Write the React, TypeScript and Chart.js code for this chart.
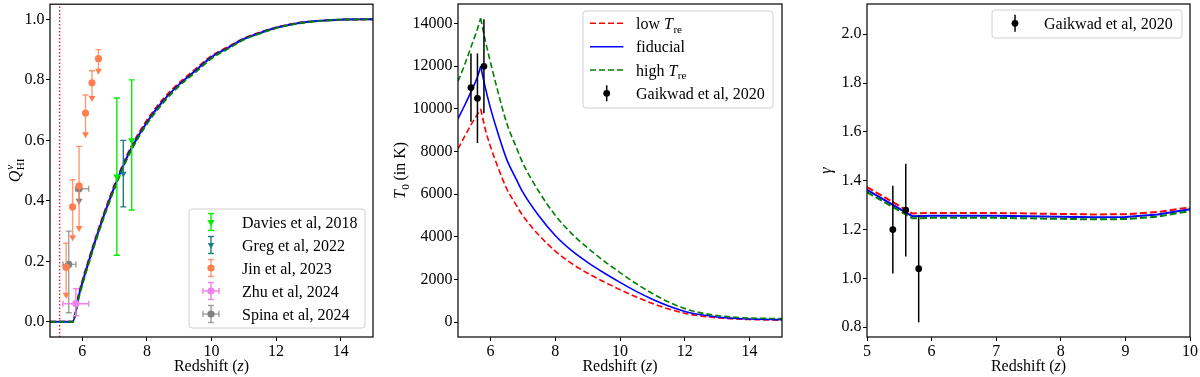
import React, { useEffect, useRef } from "react";
import { Chart, registerables } from "chart.js";

Chart.register(...registerables);

const SERIF = '"Liberation Serif", "Times New Roman", "DejaVu Serif", serif';
const FS = 16;

const RED = "#ff0000";
const BLUE = "#0000ff";
const DGREEN = "#008000";
const LIME = "#00ee00";
const TEAL = "#1b7f7f";
const CORAL = "#ff7f50";
const CORAL_BAR = "rgba(255,127,80,0.8)";
const VIOLET = "#ee82ee";
const GRAY = "#808080";
const GRAY_BAR = "rgba(128,128,128,0.75)";

// ---------------- Panel 1: Q_HI ----------------
const zQ = [5.0, 5.7, 5.9, 6.2, 6.5, 6.9, 7.2, 7.5, 8.0, 8.5, 9.0, 9.5, 10.0, 10.5, 11.0, 11.5, 12.0, 12.5, 13.0, 13.5, 14.0, 15.0];
const qLow = [0, 0, 0.096, 0.206, 0.306, 0.426, 0.506, 0.576, 0.666, 0.736, 0.79, 0.835, 0.879, 0.908, 0.937, 0.957, 0.973, 0.985, 0.992, 0.996, 0.999, 1.0];
const qFid = [0, 0, 0.09, 0.2, 0.3, 0.42, 0.5, 0.57, 0.66, 0.73, 0.785, 0.83, 0.875, 0.905, 0.935, 0.955, 0.972, 0.984, 0.992, 0.996, 0.999, 1.0];
const qHigh = [0, 0, 0.084, 0.194, 0.294, 0.414, 0.494, 0.564, 0.654, 0.724, 0.78, 0.825, 0.871, 0.902, 0.933, 0.953, 0.971, 0.983, 0.991, 0.996, 0.999, 1.0];
const zReion = 5.3;
const qMin = -0.05;
const qMax = 1.05;
const qTicksX = [6, 8, 10, 12, 14];
const qTicksY = [0, 0.2, 0.4, 0.6, 0.8, 1.0];

const daviesZ = [7.07, 7.53];
const daviesQ = [0.48, 0.6];
const daviesLo = [0.22, 0.37];
const daviesHi = [0.74, 0.8];

const gregZ = [7.27];
const gregQ = [0.49];
const gregLo = [0.38];
const gregHi = [0.6];

const jinZ = [5.5, 5.7, 5.9, 6.1, 6.3, 6.5];
const jinQ = [0.18, 0.38, 0.45, 0.69, 0.79, 0.87];
const jinHi = [0.26, 0.47, 0.58, 0.75, 0.83, 0.9];
const jinLim = [0.09, 0.28, 0.31, 0.62, 0.74, 0.83];

const zhuZ = [5.8];
const zhuQ = [0.06];
const zhuZLo = [5.4];
const zhuZHi = [6.2];
const zhuLo = [0.02];
const zhuHi = [0.11];

const spinaZ = [5.58, 5.9];
const spinaQ = [0.19, 0.44];
const spinaZLo = [5.4, 5.79];
const spinaZHi = [5.8, 6.2];
const spinaLo = [0.03, 0.4];
const spinaHi = [0.3, 0.44];
const spinaCap = [true, false];
const spinaLimZ = [5.9];
const spinaLimQ = [0.4];

// ---------------- Panel 2: T0 ----------------
const zT = [5.0, 5.2, 5.4, 5.6, 5.7, 5.85, 6.0, 6.2, 6.5, 6.8, 7.0, 7.5, 8.0, 8.5, 9.0, 9.5, 10.0, 10.5, 11.0, 11.5, 12.0, 12.5, 13.0, 13.5, 14.0, 15.0];
const tPeakIndex = 4; // z = 5.7, where all three curves peak
const tLow = [8130, 8700, 9250, 9750, 10000, 9000, 8250, 7400, 6270, 5490, 5000, 4080, 3340, 2760, 2300, 1900, 1530, 1190, 880, 620, 420, 290, 210, 160, 128, 100];
const tFid = [9540, 10150, 10800, 11500, 12000, 10950, 10050, 9020, 7650, 6700, 6100, 4980, 4070, 3370, 2810, 2320, 1870, 1450, 1080, 760, 510, 350, 250, 190, 155, 125];
const tHigh = [11300, 12050, 12900, 13750, 14250, 13150, 12200, 11000, 9350, 8200, 7470, 6120, 5020, 4170, 3490, 2880, 2330, 1810, 1350, 950, 640, 440, 320, 240, 200, 170];
const tTicksX = [6, 8, 10, 12, 14];
const tTicksY = [0, 2000, 4000, 6000, 8000, 10000, 12000, 14000];

// ---------------- Panel 3: gamma ----------------
const zG = [5.0, 5.7, 6.0, 7.0, 8.0, 8.5, 9.0, 9.5, 10.0];
const gLow = [1.374, 1.266, 1.268, 1.268, 1.264, 1.262, 1.263, 1.272, 1.291];
const gFid = [1.363, 1.255, 1.257, 1.257, 1.253, 1.251, 1.252, 1.262, 1.283];
const gHigh = [1.353, 1.246, 1.248, 1.248, 1.244, 1.242, 1.243, 1.253, 1.276];
const gTicksX = [5, 6, 7, 8, 9, 10];
const gTicksY = [0.8, 1.0, 1.2, 1.4, 1.6, 1.8, 2.0];

// Gaikwad et al 2020
const gkZ = [5.4, 5.6, 5.8];
const gkT = [11000, 10500, 12000];
const gkTErr = [1600, 2100, 2200];
const gkG = [1.2, 1.28, 1.04];
const gkGErr = [0.18, 0.19, 0.22];

// ---------------- helpers ----------------
type Seg = { t?: string; it?: boolean; sub?: string; subIt?: boolean; sup?: string; supIt?: boolean };

function fnt(it: any, size: number) {
  return `${it ? "italic " : ""}${size}px ${SERIF}`;
}

function richWidth(ctx: any, segs: Seg[], size: number) {
  let w = 0;
  for (const s of segs) {
    if (s.t) {
      ctx.font = fnt(s.it, size);
      w += ctx.measureText(s.t).width;
    }
    let sw = 0;
    if (s.sub) {
      ctx.font = fnt(s.subIt, size * 0.7);
      sw = Math.max(sw, ctx.measureText(s.sub).width);
    }
    if (s.sup) {
      ctx.font = fnt(s.supIt, size * 0.7);
      sw = Math.max(sw, ctx.measureText(s.sup).width);
    }
    w += sw;
  }
  return w;
}

function drawRich(ctx: any, segs: Seg[], x: number, y: number, size: number, align: string) {
  ctx.textBaseline = "alphabetic";
  ctx.textAlign = "left";
  ctx.fillStyle = "#000";
  let cx = align === "center" ? x - richWidth(ctx, segs, size) / 2 : x;
  for (const s of segs) {
    if (s.t) {
      ctx.font = fnt(s.it, size);
      ctx.fillText(s.t, cx, y);
      cx += ctx.measureText(s.t).width;
    }
    let sw = 0;
    if (s.sub) {
      ctx.font = fnt(s.subIt, size * 0.7);
      ctx.fillText(s.sub, cx + 0.5, y + size * 0.24);
      sw = Math.max(sw, ctx.measureText(s.sub).width);
    }
    if (s.sup) {
      ctx.font = fnt(s.supIt, size * 0.7);
      ctx.fillText(s.sup, cx + 1, y - size * 0.42);
      sw = Math.max(sw, ctx.measureText(s.sup).width);
    }
    cx += sw;
  }
}

function seg(ctx: any, x1: number, y1: number, x2: number, y2: number) {
  ctx.beginPath();
  ctx.moveTo(x1, y1);
  ctx.lineTo(x2, y2);
  ctx.stroke();
}

function drawMarker(ctx: any, kind: string, x: number, y: number, r: number, color: string) {
  ctx.fillStyle = color;
  ctx.beginPath();
  if (kind === "triDown") {
    ctx.moveTo(x, y + r);
    ctx.lineTo(x - r * 0.866, y - r / 2);
    ctx.lineTo(x + r * 0.866, y - r / 2);
    ctx.closePath();
  } else {
    ctx.arc(x, y, r, 0, Math.PI * 2);
  }
  ctx.fill();
}

function drawHandle(ctx: any, it: any, cx: number, cy: number) {
  ctx.save();
  if (it.kind === "line") {
    ctx.strokeStyle = it.color;
    ctx.lineWidth = it.lw;
    ctx.setLineDash(it.dash || []);
    seg(ctx, cx - 16.7, cy, cx + 16.7, cy);
    ctx.setLineDash([]);
  } else {
    ctx.strokeStyle = it.errColor;
    ctx.lineWidth = it.lw;
    const vh = it.vh;
    seg(ctx, cx, cy - vh, cx, cy + vh);
    if (it.cap) {
      seg(ctx, cx - it.cap, cy - vh, cx + it.cap, cy - vh);
      seg(ctx, cx - it.cap, cy + vh, cx + it.cap, cy + vh);
    }
    if (it.xh) {
      seg(ctx, cx - it.xh, cy, cx + it.xh, cy);
      if (it.cap) {
        seg(ctx, cx - it.xh, cy - it.cap, cx - it.xh, cy + it.cap);
        seg(ctx, cx + it.xh, cy - it.cap, cx + it.xh, cy + it.cap);
      }
    }
    drawMarker(ctx, it.marker, cx, cy, it.r, it.color);
  }
  ctx.restore();
}

function drawLegend(ctx: any, L: any) {
  ctx.save();
  const r = 3;
  const x = L.x0, y = L.y0, w = L.x1 - L.x0, h = L.y1 - L.y0;
  ctx.beginPath();
  ctx.moveTo(x + r, y);
  ctx.lineTo(x + w - r, y);
  ctx.arcTo(x + w, y, x + w, y + r, r);
  ctx.lineTo(x + w, y + h - r);
  ctx.arcTo(x + w, y + h, x + w - r, y + h, r);
  ctx.lineTo(x + r, y + h);
  ctx.arcTo(x, y + h, x, y + h - r, r);
  ctx.lineTo(x, y + r);
  ctx.arcTo(x, y, x + r, y, r);
  ctx.closePath();
  ctx.fillStyle = "rgba(255,255,255,0.8)";
  ctx.fill();
  ctx.strokeStyle = "#d0d0d0";
  ctx.lineWidth = 1;
  ctx.stroke();
  L.items.forEach((it: any, i: number) => {
    const cy = L.rows[i];
    drawHandle(ctx, it, L.hx, cy);
    drawRich(ctx, it.label, L.tx, cy + 5.5, FS, "left");
  });
  ctx.restore();
}

const errPlugin = {
  id: "errbars",
  beforeDatasetDraw(chart: any, args: any) {
    const ds = chart.data.datasets[args.index];
    if (!ds.errs) return;
    const ctx = chart.ctx;
    const xs = chart.scales.x;
    const ys = chart.scales.y;
    const ca = chart.chartArea;
    ctx.save();
    ctx.beginPath();
    ctx.rect(ca.left, ca.top, ca.right - ca.left, ca.bottom - ca.top);
    ctx.clip();
    ctx.strokeStyle = ds.errColor;
    ctx.lineWidth = ds.errWidth;
    const c = ds.capSize || 0;
    for (const e of ds.errs) {
      const px = xs.getPixelForValue(e.x);
      const py = ys.getPixelForValue(e.y);
      if (e.yLo !== undefined) {
        const a = ys.getPixelForValue(e.yLo);
        const b = ys.getPixelForValue(e.yHi);
        seg(ctx, px, a, px, b);
        if (c && e.capLo !== false) seg(ctx, px - c, a, px + c, a);
        if (c && e.capHi !== false) seg(ctx, px - c, b, px + c, b);
      }
      if (e.xLo !== undefined) {
        const a = xs.getPixelForValue(e.xLo);
        const b = xs.getPixelForValue(e.xHi);
        seg(ctx, a, py, b, py);
        if (c) {
          seg(ctx, a, py - c, a, py + c);
          seg(ctx, b, py - c, b, py + c);
        }
      }
    }
    ctx.restore();
  },
};

function decor(spec: any) {
  return {
    id: "decor",
    afterDraw(chart: any) {
      const ctx = chart.ctx;
      const ca = chart.chartArea;
      ctx.save();
      ctx.strokeStyle = "#000";
      ctx.lineWidth = 1.2;
      ctx.strokeRect(ca.left, ca.top, ca.right - ca.left, ca.bottom - ca.top);
      ctx.restore();
      ctx.save();
      drawRich(ctx, spec.xTitle, (ca.left + ca.right) / 2, 371, FS, "center");
      ctx.restore();
      ctx.save();
      ctx.translate(spec.yTitleX, (ca.top + ca.bottom) / 2);
      ctx.rotate(-Math.PI / 2);
      drawRich(ctx, spec.yTitle, 0, 0, FS, "center");
      ctx.restore();
      drawLegend(ctx, spec.legend);
    },
  };
}

function scalesFor(p: any) {
  const tickFont = { family: SERIF, size: FS };
  const grid = { display: true, drawOnChartArea: false, drawTicks: true, tickLength: 4, color: "#000", lineWidth: 1 };
  return {
    x: {
      type: "linear",
      min: p.xMin,
      max: p.xMax,
      afterBuildTicks: (s: any) => {
        s.ticks = p.xTicks.map((v: number) => ({ value: v }));
      },
      afterFit: (s: any) => {
        s.height = 40;
        s.paddingLeft = 0;
        s.paddingRight = 0;
      },
      ticks: { color: "#000", font: tickFont, padding: 1, maxRotation: 0, autoSkip: false, callback: (v: any) => p.xFmt(v) },
      grid,
      border: { display: false },
    },
    y: {
      type: "linear",
      min: p.yMin,
      max: p.yMax,
      afterBuildTicks: (s: any) => {
        s.ticks = p.yTicks.map((v: number) => ({ value: v }));
      },
      afterFit: (s: any) => {
        s.width = p.yW;
        s.paddingTop = 0;
        s.paddingBottom = 0;
      },
      ticks: { color: "#000", font: tickFont, padding: 1.5, autoSkip: false, callback: (v: any) => p.yFmt(v) },
      grid,
      border: { display: false },
    },
  };
}

function baseOptions(p: any) {
  return {
    responsive: false,
    maintainAspectRatio: false,
    animation: false,
    events: [],
    layout: { padding: { left: 0, right: p.padR, top: 3, bottom: 0 } },
    plugins: { legend: { display: false }, tooltip: { enabled: false } },
    scales: scalesFor(p),
  };
}

const pts = (xs: number[], ys: number[]) => xs.map((x, i) => ({ x, y: ys[i] }));

function curve(data: any, color: string, lw: number, dash: number[], order: number, mono: boolean) {
  return {
    data,
    showLine: true,
    borderColor: color,
    borderWidth: lw,
    borderDash: dash,
    pointRadius: 0,
    fill: false,
    tension: 0,
    cubicInterpolationMode: mono ? "monotone" : "default",
    order,
  };
}

// a peaked curve: rising and decaying branches share the peak point, each smoothed separately
function peakedCurve(xs: number[], ys: number[], k: number, color: string, lw: number, dash: number[], order: number) {
  return [
    curve(pts(xs.slice(0, k + 1), ys.slice(0, k + 1)), color, lw, dash, order, true),
    curve(pts(xs.slice(k), ys.slice(k)), color, lw, dash, order, true),
  ];
}

function markers(data: any, style: string, r: number, color: string, extra: any) {
  return {
    data,
    showLine: false,
    pointStyle: style === "triDown" ? "triangle" : "circle",
    pointRotation: style === "triDown" ? 180 : 0,
    pointRadius: r,
    pointBackgroundColor: color,
    pointBorderWidth: 0,
    pointBorderColor: color,
    order: 1,
    ...extra,
  };
}

const xTitle: Seg[] = [{ t: "Redshift (" }, { t: "z", it: true }, { t: ")" }];

function makeP1() {
  const datasets = [
    markers(pts(daviesZ, daviesQ), "triDown", 4.2, LIME, {
      errs: daviesZ.map((z, i) => ({ x: z, y: daviesQ[i], yLo: daviesLo[i], yHi: daviesHi[i] })),
      errColor: LIME, errWidth: 1.4, capSize: 3,
    }),
    markers(pts(gregZ, gregQ), "triDown", 3.8, TEAL, {
      errs: gregZ.map((z, i) => ({ x: z, y: gregQ[i], yLo: gregLo[i], yHi: gregHi[i] })),
      errColor: TEAL, errWidth: 1.4, capSize: 3,
    }),
    markers(pts(jinZ, jinQ), "circle", 3.6, CORAL, {
      errs: jinZ.map((z, i) => ({ x: z, y: jinQ[i], yLo: jinLim[i], yHi: jinHi[i], capLo: false })),
      errColor: CORAL_BAR, errWidth: 1.4, capSize: 3,
    }),
    markers(pts(jinZ, jinLim), "triDown", 4, CORAL, {}),
    markers(pts(zhuZ, zhuQ), "circle", 3.6, VIOLET, {
      errs: zhuZ.map((z, i) => ({ x: z, y: zhuQ[i], yLo: zhuLo[i], yHi: zhuHi[i], xLo: zhuZLo[i], xHi: zhuZHi[i] })),
      errColor: VIOLET, errWidth: 1.4, capSize: 3,
    }),
    markers(pts(spinaZ, spinaQ), "circle", 3.6, GRAY, {
      errs: spinaZ.map((z, i) => ({ x: z, y: spinaQ[i], yLo: spinaLo[i], yHi: spinaHi[i], xLo: spinaZLo[i], xHi: spinaZHi[i], capLo: spinaCap[i], capHi: spinaCap[i] })),
      errColor: GRAY_BAR, errWidth: 1.4, capSize: 3,
    }),
    markers(pts(spinaLimZ, spinaLimQ), "triDown", 4, GRAY, {}),
    curve(pts(zQ, qLow), RED, 2, [6, 3], 10, true),
    curve(pts(zQ, qFid), BLUE, 2, [], 9, true),
    curve(pts(zQ, qHigh), DGREEN, 2, [6, 3], 8, true),
    curve(pts([zReion, zReion], [qMin, qMax]), RED, 1.2, [1.5, 2], 11, false),
  ];
  const spec = {
    xTitle,
    yTitle: [{ t: "Q", it: true, sub: "HI", sup: "v", supIt: true }],
    yTitleX: 20,
    legend: {
      x0: 189, y0: 209, x1: 365, y1: 328, hx: 211, tx: 242,
      rows: [222, 245, 268, 291, 314],
      items: [
        { kind: "err", label: [{ t: "Davies et al, 2018" }], color: LIME, errColor: LIME, lw: 1.4, vh: 8.5, cap: 3, marker: "triDown", r: 4.2 },
        { kind: "err", label: [{ t: "Greg et al, 2022" }], color: TEAL, errColor: TEAL, lw: 1.4, vh: 8.5, cap: 3, marker: "triDown", r: 3.8 },
        { kind: "err", label: [{ t: "Jin et al, 2023" }], color: CORAL, errColor: CORAL_BAR, lw: 1.4, vh: 8.5, cap: 3, marker: "circle", r: 3.6 },
        { kind: "err", label: [{ t: "Zhu et al, 2024" }], color: VIOLET, errColor: VIOLET, lw: 1.4, vh: 8.5, cap: 3, xh: 8, marker: "circle", r: 3.6 },
        { kind: "err", label: [{ t: "Spina et al, 2024" }], color: GRAY, errColor: GRAY_BAR, lw: 1.4, vh: 8.5, cap: 3, xh: 8, marker: "circle", r: 3.6 },
      ],
    },
  };
  return {
    type: "scatter",
    data: { datasets },
    options: baseOptions({
      xMin: 5, xMax: 15, xTicks: qTicksX, xFmt: (v: number) => String(v),
      yMin: qMin, yMax: qMax, yTicks: qTicksY, yFmt: (v: number) => v.toFixed(1),
      yW: 50, padR: 17,
    }),
    plugins: [errPlugin, decor(spec)],
  };
}

function makeP2() {
  const datasets = [
    markers(pts(gkZ, gkT), "circle", 3.4, "#000", {
      errs: gkZ.map((z, i) => ({ x: z, y: gkT[i], yLo: gkT[i] - gkTErr[i], yHi: gkT[i] + gkTErr[i] })),
      errColor: "#000", errWidth: 1.5, capSize: 0,
    }),
    ...peakedCurve(zT, tLow, tPeakIndex, RED, 1.6, [6, 3], 10),
    ...peakedCurve(zT, tFid, tPeakIndex, BLUE, 1.6, [], 9),
    ...peakedCurve(zT, tHigh, tPeakIndex, DGREEN, 1.6, [6, 3], 8),
  ];
  const spec = {
    xTitle,
    yTitle: [{ t: "T", it: true, sub: "0" }, { t: " (in K)" }],
    yTitleX: 15,
    legend: {
      x0: 193, y0: 11, x1: 383, y1: 108, hx: 216.7, tx: 246,
      rows: [23.3, 46.7, 70, 93.3],
      items: [
        { kind: "line", label: [{ t: "low " }, { t: "T", it: true, sub: "re" }], color: RED, lw: 1.6, dash: [6, 3] },
        { kind: "line", label: [{ t: "fiducial" }], color: BLUE, lw: 1.6, dash: [] },
        { kind: "line", label: [{ t: "high " }, { t: "T", it: true, sub: "re" }], color: DGREEN, lw: 1.6, dash: [6, 3] },
        { kind: "err", label: [{ t: "Gaikwad et al, 2020" }], color: "#000", errColor: "#000", lw: 1.5, vh: 8, cap: 0, marker: "circle", r: 3.4 },
      ],
    },
  };
  return {
    type: "scatter",
    data: { datasets },
    options: baseOptions({
      xMin: 5, xMax: 15, xTicks: tTicksX, xFmt: (v: number) => String(v),
      yMin: -690, yMax: 14920, yTicks: tTicksY, yFmt: (v: number) => String(v),
      yW: 68, padR: 8,
    }),
    plugins: [errPlugin, decor(spec)],
  };
}

function makeP3() {
  const datasets = [
    markers(pts(gkZ, gkG), "circle", 3.4, "#000", {
      errs: gkZ.map((z, i) => ({ x: z, y: gkG[i], yLo: gkG[i] - gkGErr[i], yHi: gkG[i] + gkGErr[i] })),
      errColor: "#000", errWidth: 1.5, capSize: 0,
    }),
    curve(pts(zG, gLow), RED, 2, [7, 3], 10, false),
    curve(pts(zG, gFid), BLUE, 2, [], 9, false),
    curve(pts(zG, gHigh), DGREEN, 2, [7, 3], 8, false),
  ];
  const spec = {
    xTitle,
    yTitle: [{ t: "γ", it: true }],
    yTitleX: 41,
    legend: {
      x0: 202, y0: 10, x1: 392, y1: 38, hx: 225, tx: 254,
      rows: [23.3],
      items: [
        { kind: "err", label: [{ t: "Gaikwad et al, 2020" }], color: "#000", errColor: "#000", lw: 1.5, vh: 8.5, cap: 0, marker: "circle", r: 3.4 },
      ],
    },
  };
  return {
    type: "scatter",
    data: { datasets },
    options: baseOptions({
      xMin: 5, xMax: 10, xTicks: gTicksX, xFmt: (v: number) => String(v),
      yMin: 0.76, yMax: 2.124, yTicks: gTicksY, yFmt: (v: number) => v.toFixed(1),
      yW: 77, padR: 10,
    }),
    plugins: [errPlugin, decor(spec)],
  };
}

function ChartPanel({ left, width, make }: any) {
  const ref = useRef<HTMLCanvasElement | null>(null);
  useEffect(() => {
    const chart = new Chart(ref.current as any, make() as any);
    return () => chart.destroy();
  }, []);
  return (
    <div style={{ position: "absolute", left, top: 0, width, height: 377 }}>
      <canvas ref={ref} width={width} height={377} style={{ display: "block", width, height: 377 }} />
    </div>
  );
}

export default function App() {
  return (
    <div style={{ position: "absolute", left: 0, top: 0, width: 1200, height: 377, background: "#fff", overflow: "hidden" }}>
      <ChartPanel left={0} width={390} make={makeP1} />
      <ChartPanel left={390} width={400} make={makeP2} />
      <ChartPanel left={790} width={410} make={makeP3} />
    </div>
  );
}
